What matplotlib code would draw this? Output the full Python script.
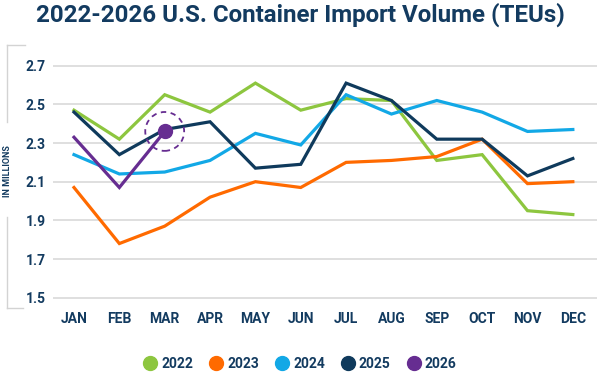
import matplotlib.pyplot as plt
from matplotlib.lines import Line2D

# ---- data (millions of TEUs) ----
months = ["JAN", "FEB", "MAR", "APR", "MAY", "JUN",
          "JUL", "AUG", "SEP", "OCT", "NOV", "DEC"]
v2022 = [2.47, 2.32, 2.55, 2.46, 2.61, 2.47, 2.53, 2.52, 2.21, 2.24, 1.95, 1.93]
v2023 = [2.07, 1.78, 1.87, 2.02, 2.10, 2.07, 2.20, 2.21, 2.23, 2.32, 2.09, 2.10]
v2024 = [2.24, 2.14, 2.15, 2.21, 2.35, 2.29, 2.55, 2.45, 2.52, 2.46, 2.36, 2.37]
v2025 = [2.46, 2.24, 2.37, 2.41, 2.17, 2.19, 2.61, 2.52, 2.32, 2.32, 2.13, 2.22]
v2026 = [2.33, 2.07, 2.36]
years = ["2022", "2023", "2024", "2025", "2026"]
yticks = [1.5, 1.7, 1.9, 2.1, 2.3, 2.5, 2.7]

colors = ["#8dc63f", "#ff6a00", "#12a8e6", "#0f3a5c", "#662d91"]
navy = "#133b60"

plt.rcParams["font.family"] = ["Roboto", "DejaVu Sans"]

fig = plt.figure(figsize=(6.0, 3.77), dpi=100)
ax = fig.add_axes([0.0878, 0.2053, 0.907, 0.6255])

x = list(range(len(months)))
series = [v2022, v2023, v2024, v2025, v2026]
for vals, c in zip(series, colors):
    ax.plot(x[:len(vals)], vals, color=c, lw=2.3, solid_joinstyle="miter", zorder=3)

# highlight latest month
last = len(v2026) - 1
ax.plot(last, v2026[last], "o", color=colors[4], ms=10, zorder=5)
ax.scatter([last], [v2026[last]], s=28 ** 2, facecolors="none",
           edgecolors=colors[4], linewidths=1.3, linestyles=(0, (3, 2.5)), zorder=5)

ax.set_xlim(-0.47, 11.53)
ax.set_ylim(1.49, 2.71)
ax.set_xticks(x)
ax.set_xticklabels(months)
ax.set_yticks(yticks)
ax.set_yticklabels([f"{t:.1f}" for t in yticks])
ax.grid(axis="y", color="#dcdcdc", lw=1.3)
ax.set_axisbelow(True)
for s in ax.spines.values():
    s.set_visible(False)
ax.tick_params(length=0, colors=navy, labelsize=10)
ax.tick_params(axis="x", pad=9)
ax.tick_params(axis="y", pad=5)
for lab in ax.get_xticklabels() + ax.get_yticklabels():
    lab.set_fontweight("bold")

fig.text(0.5, 0.962, "2022-2026 U.S. Container Import Volume (TEUs)",
         ha="center", va="center", fontsize=17.4, fontweight="bold", color=navy)

# left bracket with axis caption
W, H = 600, 377
def seg(x0, y0, x1, y1):
    fig.add_artist(Line2D([x0 / W, x1 / W], [1 - y0 / H, 1 - y1 / H],
                          color="#d3d3d3", lw=1.0))
seg(7, 45, 25, 45)
seg(7, 45, 7, 122)
seg(7, 217, 7, 308)
seg(7, 308, 23, 308)
fig.text(8 / W, 1 - 171 / H, "IN MILLIONS", rotation=90, ha="center", va="center",
         fontsize=6.5, fontweight="bold", color=navy)

handles = [Line2D([], [], marker="o", ls="none", ms=10, color=c) for c in colors]
leg = fig.legend(handles, years, loc="center", bbox_to_anchor=(0.5, 1 - 364 / H),
                 ncol=5, frameon=False, handlelength=1.0, handletextpad=0.3,
                 columnspacing=1.15, prop={"weight": "bold", "size": 10})
for t in leg.get_texts():
    t.set_color(navy)

fig.savefig("out.png", dpi=100)
